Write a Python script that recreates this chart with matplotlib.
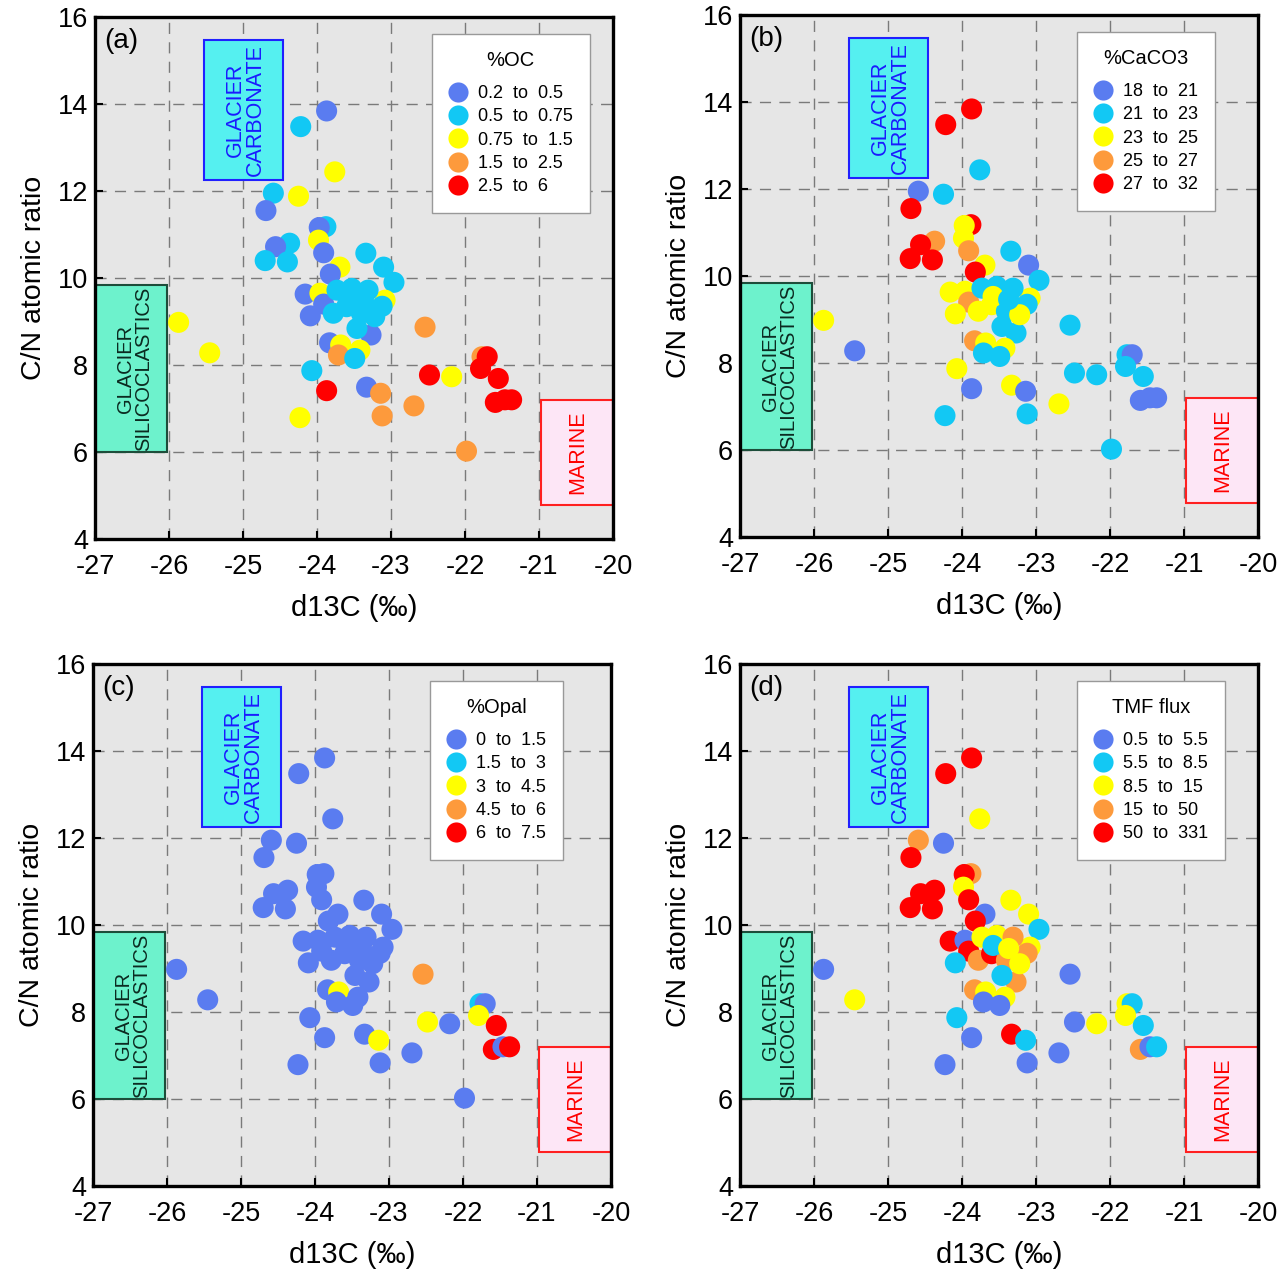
import numpy as np
import matplotlib
matplotlib.use("Agg")
import matplotlib.pyplot as plt
from matplotlib.lines import Line2D
from matplotlib.patches import Rectangle

plt.rcParams['font.family'] = ['Liberation Sans', 'DejaVu Sans']
plt.rcParams['axes.unicode_minus'] = False

# sample positions (same in all panels)
d13c = [-23.87, -24.22, -23.76, -24.59, -24.25, -24.69, -23.88, -23.97, -23.98, -24.37,
        -24.56, -24.70, -24.40, -23.91, -23.34, -23.69, -23.10, -22.96, -23.82, -24.16,
        -23.96, -23.91, -24.09, -23.08, -23.12, -25.87, -25.45, -22.54, -23.27, -23.83,
        -23.68, -23.71, -23.42, -23.49, -24.07, -23.87, -23.33, -23.14, -23.12, -22.69,
        -24.23, -21.98, -22.48, -22.18, -21.77, -21.70, -21.79, -21.55, -21.59, -21.46,
        -21.37, -23.73, -23.53, -23.31, -23.78, -23.60, -23.40, -23.22, -23.46, -23.58,
        -23.37]
cn_ratio = [13.84, 13.48, 12.44, 11.95, 11.88, 11.55, 11.18, 11.16, 10.87, 10.80,
            10.72, 10.40, 10.37, 10.58, 10.57, 10.25, 10.25, 9.90, 10.09, 9.63,
            9.65, 9.40, 9.13, 9.49, 9.35, 8.98, 8.28, 8.87, 8.69, 8.51,
            8.46, 8.23, 8.34, 8.15, 7.87, 7.41, 7.49, 7.35, 6.83, 7.06,
            6.79, 6.02, 7.77, 7.73, 8.19, 8.19, 7.92, 7.69, 7.14, 7.20,
            7.20, 9.72, 9.76, 9.72, 9.19, 9.34, 9.19, 9.11, 8.84, 9.53,
            9.46]

# class index (0..4) of each sample for each panel, None = no data
oc_class = [0, 1, 2, 1, 2, 0, 1, 0, 2, 1, 0, 1, 1, 0, 1, 2, 1, 1, 0, 0,
            2, 0, 0, 2, 1, 2, 2, 3, 0, 0, 2, 3, 2, 1, 1, 4, 0, 3, 3, 3,
            2, 3, 4, 2, 3, 4, 4, 4, 4, 4, 4, 1, 1, 1, 1, 1, 1, 1, 1, 1, 1]
caco3_class = [4, 4, 1, 0, 1, 4, 4, 2, 2, 3, 4, 4, 4, 3, 1, 2, 0, 1, 4, 2,
               2, 3, 2, 2, 1, 2, 0, 1, 1, 3, 2, 1, 2, 1, 2, 0, 2, 0, 1, 2,
               1, 1, 1, 1, 1, 0, 1, 1, 0, 0, 0, 1, 1, 1, 2, 2, 1, 2, 1, 2, 1]
opal_class = [0, 0, 0, 0, 0, 0, 0, 0, 0, 0, 0, 0, 0, 0, 0, 0, 0, 0, 0, 0,
              0, 0, 0, 0, 0, 0, 0, 3, 0, 0, 2, 0, 0, 0, 0, 0, 0, 2, 0, 0,
              0, 0, 2, 0, 1, 0, 2, 4, 4, 0, 4, 0, 0, 0, 0, 0, 0, 0, 0, 0, 0]
tmf_class = [4, 4, 2, 3, 0, 4, 3, 4, 2, 4, 4, 4, 4, 4, 2, 0, 2, 1, 4, 4,
             0, 4, 1, 2, 3, 0, 2, 0, 3, 3, 2, 0, 2, 0, 1, 0, 4, 1, 0, 0,
             0, None, 0, 2, 2, 1, 2, 1, 3, 0, 1, 2, 2, 3, 3, 4, 3, 2, 1, 1, 2]

oc_labels = ["0.2  to  0.5", "0.5  to  0.75", "0.75  to  1.5", "1.5  to  2.5", "2.5  to  6"]
caco3_labels = ["18  to  21", "21  to  23", "23  to  25", "25  to  27", "27  to  32"]
opal_labels = ["0  to  1.5", "1.5  to  3", "3  to  4.5", "4.5  to  6", "6  to  7.5"]
tmf_labels = ["0.5  to  5.5", "5.5  to  8.5", "8.5  to  15", "15  to  50", "50  to  331"]

colors = ['#5a7cf0', '#12c8f4', '#ffff00', '#fd9a3c', '#ff0000']

panels = [
    ("(a)", "%OC", oc_class, oc_labels, [95, 17, 613, 539]),
    ("(b)", "%CaCO3", caco3_class, caco3_labels, [740, 15, 1258, 537]),
    ("(c)", "%Opal", opal_class, opal_labels, [93, 664, 611, 1186]),
    ("(d)", "TMF flux", tmf_class, tmf_labels, [740, 664, 1258, 1186]),
]

W, H = 1280, 1273
fig = plt.figure(figsize=(W / 100, H / 100), dpi=100)

for tag, title, cls, labels, (l, t, r, b) in panels:
    ax = fig.add_axes([l / W, 1 - b / H, (r - l) / W, (b - t) / H])
    ax.set_facecolor('#e6e6e6')
    ax.set_xlim(-27, -20)
    ax.set_ylim(4, 16)
    ax.set_xticks(np.arange(-27, -19, 1))
    ax.set_yticks(np.arange(4, 17, 2))
    ax.grid(True, color='#7a7a7a', linestyle=(0, (8, 6)), linewidth=1.0)
    ax.set_axisbelow(True)
    for s in ax.spines.values():
        s.set_linewidth(2.4)
        s.set_color('black')
    ax.tick_params(direction='in', length=6, width=1.5, labelsize=19.5)
    ax.tick_params(axis='x', pad=11)
    ax.tick_params(axis='y', pad=5)

    # source boxes
    ax.add_patch(Rectangle((-25.53, 12.25), 1.07, 3.22, facecolor='#55f0f0',
                           edgecolor='#2020ff', linewidth=1.5, zorder=1))
    ax.text(-24.97, 13.86, "GLACIER\nCARBONATE", rotation=90, ha='center', va='center',
            color='#1a1aff', fontsize=15.5, linespacing=0.95, zorder=1.5)
    ax.add_patch(Rectangle((-27, 6.0), 0.97, 3.84, facecolor='#6df2cc',
                           edgecolor='#1d4d3a', linewidth=1.5, zorder=1))
    ax.text(-26.47, 7.92, "GLACIER\nSILICOCLASTICS", rotation=90, ha='center', va='center',
            color='#0b2a20', fontsize=14.5, linespacing=0.95, zorder=1.5)
    ax.add_patch(Rectangle((-20.97, 4.78), 0.97, 2.42, facecolor='#fde6f6',
                           edgecolor='#ff2020', linewidth=1.5, zorder=1))
    ax.text(-20.48, 6.0, "MARINE", rotation=90, ha='center', va='center',
            color='#ff0000', fontsize=15.5, zorder=1.5)

    for xv, yv, c in zip(d13c, cn_ratio, cls):
        if c is None:
            continue
        ax.scatter(xv, yv, s=230, color=colors[c], edgecolors='none', zorder=3)

    ax.text(-26.87, 15.45, tag, fontsize=20, ha='left', va='center')
    ax.set_xlabel("d13C (‰)", fontsize=21, labelpad=10)
    ax.set_ylabel("C/N atomic ratio", fontsize=20.5, labelpad=8)

    handles = [Line2D([], [], marker='o', linestyle='none', markersize=14.5,
                      markerfacecolor=c, markeredgecolor='none') for c in colors]
    leg = ax.legend(handles, labels, title=title, loc='upper left',
                    bbox_to_anchor=(0.65, 0.968), borderaxespad=0,
                    fontsize=13, title_fontsize=14.5,
                    frameon=True, fancybox=False, framealpha=1, edgecolor='#999999',
                    handletextpad=0.6, labelspacing=0.35, borderpad=0.95,
                    handlelength=1.0)
    leg.get_frame().set_linewidth(1.0)
    leg._legend_box.sep = 11
    leg.set_zorder(5)

fig.savefig("out.png", dpi=100)
